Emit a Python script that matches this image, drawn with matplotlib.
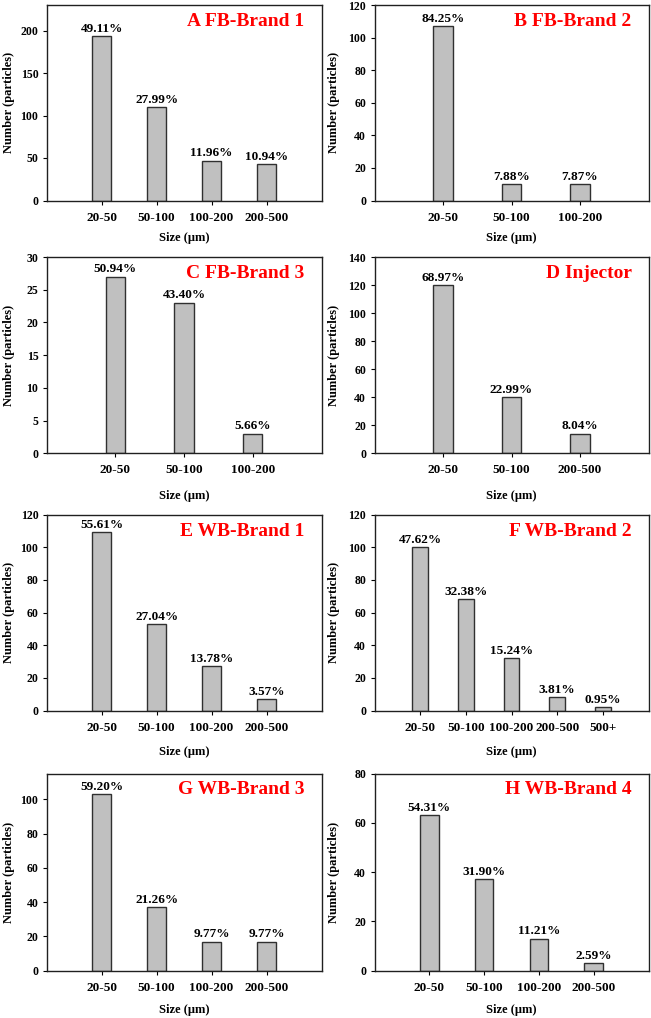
import matplotlib
matplotlib.use("Agg")
import matplotlib.pyplot as plt

plt.rcParams['font.family'] = ['Liberation Serif', 'DejaVu Serif']
plt.rcParams['font.weight'] = 'bold'

# panel titles (reading order A..H)
titles = ["A FB-Brand 1", "B FB-Brand 2", "C FB-Brand 3", "D Injector",
          "E WB-Brand 1", "F WB-Brand 2", "G WB-Brand 3", "H WB-Brand 4"]

# size classes per panel
sizes_a = ["20-50", "50-100", "100-200", "200-500"]
sizes_b = ["20-50", "50-100", "100-200"]
sizes_c = ["20-50", "50-100", "100-200"]
sizes_d = ["20-50", "50-100", "200-500"]
sizes_e = ["20-50", "50-100", "100-200", "200-500"]
sizes_f = ["20-50", "50-100", "100-200", "200-500", "500+"]
sizes_g = ["20-50", "50-100", "100-200", "200-500"]
sizes_h = ["20-50", "50-100", "100-200", "200-500"]

# particle counts
counts_a = [193, 110, 47, 43]
counts_b = [107, 10, 10]
counts_c = [27, 23, 3]
counts_d = [120, 40, 14]
counts_e = [109, 53, 27, 7]
counts_f = [100, 68, 32, 8, 2]
counts_g = [103, 37, 17, 17]
counts_h = [63, 37, 13, 3]

# percentage labels as printed
pct_a = ["49.11%", "27.99%", "11.96%", "10.94%"]
pct_b = ["84.25%", "7.88%", "7.87%"]
pct_c = ["50.94%", "43.40%", "5.66%"]
pct_d = ["68.97%", "22.99%", "8.04%"]
pct_e = ["55.61%", "27.04%", "13.78%", "3.57%"]
pct_f = ["47.62%", "32.38%", "15.24%", "3.81%", "0.95%"]
pct_g = ["59.20%", "21.26%", "9.77%", "9.77%"]
pct_h = ["54.31%", "31.90%", "11.21%", "2.59%"]

# y axis range and tick step
y_max = [230, 120, 30, 140, 120, 120, 115, 80]
y_step = [50, 20, 5, 20, 20, 20, 20, 20]

all_sizes = [sizes_a, sizes_b, sizes_c, sizes_d, sizes_e, sizes_f, sizes_g, sizes_h]
all_counts = [counts_a, counts_b, counts_c, counts_d, counts_e, counts_f, counts_g, counts_h]
all_pct = [pct_a, pct_b, pct_c, pct_d, pct_e, pct_f, pct_g, pct_h]

W, H = 651, 1018
fig = plt.figure(figsize=(W / 100, H / 100), dpi=100)

col_left = [46.7, 374.5]
col_width = [274.8, 274.0]
ylabel_gap = [32, 35]
row_top = [5, 257, 514.5, 773.5]
row_bottom = [200.5, 453.3, 710.5, 970.7]
xlabel_gap = [31, 37, 36, 33]
bar_w = {3: 0.28, 4: 0.34, 5: 0.35}

for i in range(8):
    r, c = divmod(i, 2)
    h_px = row_bottom[r] - row_top[r]
    ax = fig.add_axes([col_left[c] / W, 1 - row_bottom[r] / H,
                       col_width[c] / W, h_px / H])
    sizes = all_sizes[i]
    counts = all_counts[i]
    n = len(sizes)
    x = list(range(1, n + 1))
    ax.bar(x, counts, width=bar_w[n], color='#c0c0c0', edgecolor='#303030',
           linewidth=1.0, zorder=2)
    for xi, cnt, lab in zip(x, counts, all_pct[i]):
        ax.annotate(lab, (xi, cnt), xytext=(0, 1), textcoords='offset points',
                    ha='center', va='bottom', fontsize=9.5, fontweight='bold')
    ax.set_xlim(0, n + 1)
    ax.set_ylim(0, y_max[i])
    ax.set_xticks(x)
    ax.set_xticklabels(sizes, fontsize=9.5, fontweight='bold')
    ticks = list(range(0, y_max[i] + 1, y_step[i]))
    ax.set_yticks(ticks)
    ax.set_yticklabels([str(t) for t in ticks], fontsize=8.5, fontweight='bold')
    ax.tick_params(direction='out', length=3, width=0.8, pad=3)
    ax.tick_params(axis='x', pad=5)
    for sp in ax.spines.values():
        sp.set_linewidth(1.0)
        sp.set_color('#202020')
    ax.set_xlabel("Size (\u03bcm)", fontsize=9, fontweight='bold')
    ax.xaxis.set_label_coords(0.5, -xlabel_gap[r] / h_px)
    ax.set_ylabel("Number (particles)", fontsize=9, fontweight='bold')
    ax.yaxis.set_label_coords(-ylabel_gap[c] / col_width[c], 0.5)
    ax.text(1 - 17 / col_width[c], 1 - 8 / h_px, titles[i],
            transform=ax.transAxes, ha='right', va='top', color='#ff0000',
            fontsize=14, fontweight='bold')

fig.savefig("out.png", dpi=100)
